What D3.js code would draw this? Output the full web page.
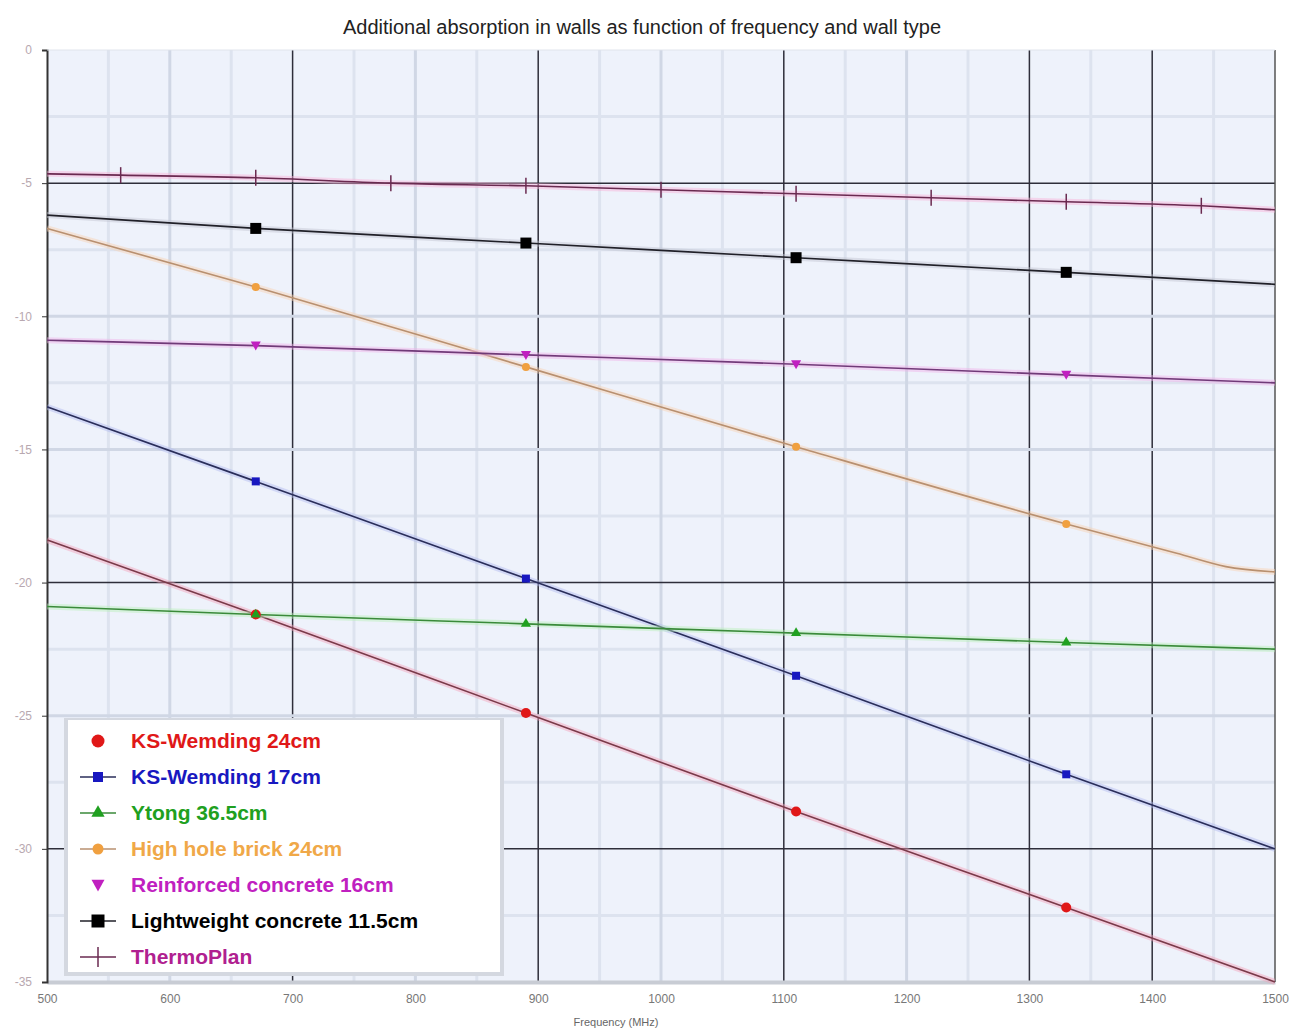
<!DOCTYPE html>
<html><head><meta charset="utf-8">
<script src="https://cdn.jsdelivr.net/npm/d3@7"></script>
<style>body{margin:0;background:#fff;font-family:Arial,"Liberation Sans",sans-serif;}</style>
</head><body><svg id="c" width="1296" height="1032"></svg>
<script>
const title = "Additional absorption in walls as function of frequency and wall type";
const xLabel = "Frequency (MHz)";
const xTicks = [500,600,700,800,900,1000,1100,1200,1300,1400,1500];
const yTicks = [0,-5,-10,-15,-20,-25,-30,-35];
const seriesNames = ["KS-Wemding 24cm","KS-Wemding 17cm","Ytong 36.5cm","High hole brick 24cm","Reinforced concrete 16cm","Lightweight concrete 11.5cm","ThermoPlan"];
// line points (frequency MHz, dB)
const ksw24F = [500,670,890,1110,1330,1500];
const ksw24V = [-18.4,-21.2,-24.9,-28.6,-32.2,-35.0];
const ksw17F = [500,670,890,1110,1330,1500];
const ksw17V = [-13.4,-16.2,-19.85,-23.5,-27.2,-30.0];
const ytongF = [500,670,890,1110,1330,1500];
const ytongV = [-20.9,-21.2,-21.55,-21.9,-22.25,-22.5];
const brickF = [500,670,890,1110,1330,1420,1460,1500];
const brickV = [-6.7,-8.9,-11.9,-14.9,-17.8,-18.9,-19.4,-19.6];
const rconF = [500,670,890,1110,1330,1500];
const rconV = [-10.9,-11.1,-11.45,-11.8,-12.2,-12.5];
const lightF = [500,670,890,1110,1330,1500];
const lightV = [-6.2,-6.7,-7.25,-7.8,-8.35,-8.8];
const thermoF = [500,560,670,780,890,1000,1110,1220,1330,1440,1500];
const thermoV = [-4.65,-4.7,-4.8,-5.0,-5.1,-5.25,-5.4,-5.55,-5.7,-5.85,-6.0];
// measured points where markers are drawn
const ksw24M = [670,890,1110,1330];
const ksw17M = [670,890,1110,1330];
const ytongM = [670,890,1110,1330];
const brickM = [670,890,1110,1330];
const rconM = [670,890,1110,1330];
const lightM = [670,890,1110,1330];
const thermoM = [560,670,780,890,1000,1110,1220,1330,1440];

const series = [
 {name:seriesNames[0], f:ksw24F, v:ksw24V, m:ksw24M, col:"#e01818", line:"#7a3a4a", halo:"#f4a0b8", sym:"circle", ms:5, legLine:false},
 {name:seriesNames[1], f:ksw17F, v:ksw17V, m:ksw17M, col:"#1818c0", line:"#2a2e5a", halo:"#b0b8f0", sym:"square", ms:8, legLine:true},
 {name:seriesNames[2], f:ytongF, v:ytongV, m:ytongM, col:"#20a020", line:"#3a8a3a", halo:"#b8f0b8", sym:"triangle", ms:5, legLine:true},
 {name:seriesNames[3], f:brickF, v:brickV, m:brickM, col:"#f0a040", line:"#b89070", halo:"#f8d0b0", sym:"circle", ms:4, legLine:true},
 {name:seriesNames[4], f:rconF, v:rconV, m:rconM, col:"#c020c0", line:"#703a78", halo:"#f0b0e8", sym:"tridown", ms:5, legLine:false},
 {name:seriesNames[5], f:lightF, v:lightV, m:lightM, col:"#000000", line:"#202028", halo:"#c0c4d0", sym:"square", ms:11, legLine:true},
 {name:seriesNames[6], f:thermoF, v:thermoV, m:thermoM, col:"#a02080", line:"#6a2a50", halo:"#f8b0d8", sym:"cross", ms:8, legLine:true}
];

const svg = d3.select("#c");
const L=47, T=50, R=1275, B=982;
const x = d3.scaleLinear().domain([500,1500]).range([L,R]);
const y = d3.scaleLinear().domain([0,-35]).range([T,B]);

svg.append("rect").attr("x",L).attr("y",T).attr("width",R-L).attr("height",B-T).attr("fill","#eef2fb");

// minor grid
const g = svg.append("g");
d3.range(550,1500,100).forEach(f=>{
  g.append("line").attr("x1",x(f)).attr("x2",x(f)).attr("y1",T).attr("y2",B).attr("stroke","#dde3ef").attr("stroke-width",3);
});
d3.range(-2.5,-35,-5).forEach(v=>{
  g.append("line").attr("x1",L).attr("x2",R).attr("y1",y(v)).attr("y2",y(v)).attr("stroke","#dde3ef").attr("stroke-width",3);
});
const darkX = [700,900,1100,1300,1400];
xTicks.slice(1,-1).forEach(f=>{
  const d = darkX.includes(f);
  g.append("line").attr("x1",x(f)).attr("x2",x(f)).attr("y1",T).attr("y2",B)
   .attr("stroke", d?"#2e2e3a":"#d0d7e5").attr("stroke-width", d?1.5:3);
});
const darkY = [-5,-20,-30];
yTicks.slice(1,-1).forEach(v=>{
  const d = darkY.includes(v);
  g.append("line").attr("x1",L).attr("x2",R).attr("y1",y(v)).attr("y2",y(v))
   .attr("stroke", d?"#2e2e3a":"#d0d7e5").attr("stroke-width", d?1.5:3);
});

// axes
const fmt = d => String(d);
const xa = svg.append("g").attr("transform",`translate(0,${B})`)
  .call(d3.axisBottom(x).tickValues(xTicks).tickFormat(fmt).tickSize(0).tickPadding(12));
xa.select(".domain").attr("stroke","#c8ccd4").attr("stroke-width",4);
xa.selectAll("text").attr("fill","#777").attr("font-size",12).attr("font-family","Arial");
const ya = svg.append("g").attr("transform",`translate(${L},0)`)
  .call(d3.axisLeft(y).tickValues(yTicks).tickFormat(fmt).tickSize(5).tickPadding(10));
ya.select(".domain").attr("stroke","#333").attr("stroke-width",2);
ya.selectAll("line").attr("stroke","#333");
ya.selectAll("text").attr("fill","#b8a8b0").attr("font-size",12).attr("font-family","Arial");
svg.append("line").attr("x1",R).attr("x2",R).attr("y1",T).attr("y2",B).attr("stroke","#555").attr("stroke-width",1.5);
svg.append("line").attr("x1",L).attr("x2",R).attr("y1",T).attr("y2",T).attr("stroke","#e0e4ec").attr("stroke-width",1);

svg.append("text").attr("x",642).attr("y",34).attr("text-anchor","middle").attr("font-size",20).attr("fill","#222").text(title);
svg.append("text").attr("x",616).attr("y",1026).attr("text-anchor","middle").attr("font-size",11).attr("fill","#666").text(xLabel);

function symPath(sym,s){
  if(sym==="circle") return d3.symbol(d3.symbolCircle, Math.PI*s*s)();
  if(sym==="square") return d3.symbol(d3.symbolSquare, s*s)();
  if(sym==="triangle") return d3.symbol(d3.symbolTriangle, s*s*1.8)();
  if(sym==="tridown") return "M"+(-s)+","+(-s*0.8)+"L"+s+","+(-s*0.8)+"L0,"+(s*1.0)+"Z";
  return null;
}
function drawMarker(sel,s,px,py){
  if(s.sym==="cross"){
    sel.append("line").attr("x1",px).attr("x2",px).attr("y1",py-s.ms).attr("y2",py+s.ms).attr("stroke",s.line).attr("stroke-width",1.5);
  } else {
    sel.append("path").attr("d",symPath(s.sym,s.ms)).attr("transform",`translate(${px},${py})`).attr("fill",s.col);
  }
}

svg.append("clipPath").attr("id","pc").append("rect").attr("x",L).attr("y",T-5).attr("width",R-L).attr("height",B-T+10);
const lg = svg.append("g").attr("clip-path","url(#pc)");
const line = d3.line().x(d=>x(d[0])).y(d=>y(d[1])).curve(d3.curveMonotoneX);
series.forEach(s=>{
  const pts = s.f.map((f,i)=>[f,s.v[i]]);
  lg.append("path").attr("d",line(pts)).attr("fill","none").attr("stroke",s.halo).attr("stroke-width",6).attr("opacity",0.45);
  lg.append("path").attr("d",line(pts)).attr("fill","none").attr("stroke",s.line).attr("stroke-width",1.6);
});
series.forEach(s=>{
  const pts = s.f.map((f,i)=>[f,s.v[i]]);
  s.m.forEach(f=>{
    const p = pts.find(d=>d[0]===f);
    drawMarker(lg,s,x(p[0]),y(p[1]));
  });
});

// legend
const lgd = svg.append("g");
lgd.append("rect").attr("x",64).attr("y",718).attr("width",440).attr("height",258).attr("fill","#d4d8e0");
lgd.append("rect").attr("x",68).attr("y",720).attr("width",432).attr("height",252).attr("fill","#ffffff");
series.forEach((s,i)=>{
  const cy = 741 + i*36;
  if(s.legLine) lgd.append("line").attr("x1",80).attr("x2",116).attr("y1",cy).attr("y2",cy).attr("stroke",s.line).attr("stroke-width",1.5);
  drawMarker(lgd,{...s, ms: s.sym==="cross"?10:(s.sym==="square"? (s.ms>9?13:10): s.ms+1.5)},98,cy);
  lgd.append("text").attr("x",131).attr("y",cy+7).attr("font-size",21).attr("font-weight","bold")
   .attr("fill", s.sym==="cross" ? "#b02090" : s.col==="#f0a040" ? "#f0a848" : s.col).text(s.name);
});
</script></body></html>
